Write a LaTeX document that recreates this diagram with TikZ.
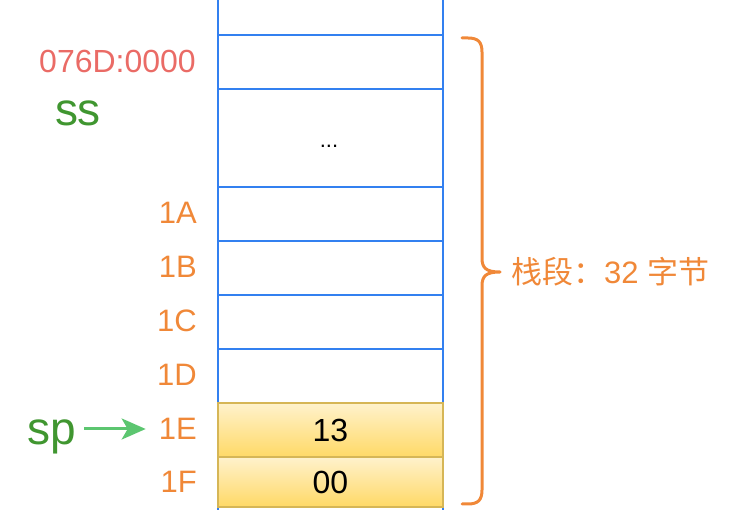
\documentclass[tikz,border=0pt]{standalone}
\usepackage{fontspec}
\setmainfont{Liberation Sans}
\newfontfamily\cjkfont{Noto Sans CJK SC}
\usetikzlibrary{arrows.meta}
\definecolor{cellblue}{RGB}{51,128,240}
\definecolor{addrred}{RGB}{234,107,102}
\definecolor{reggreen}{RGB}{64,150,48}
\definecolor{arrgreen}{RGB}{92,198,112}
\definecolor{labelorange}{RGB}{240,136,56}
\definecolor{ybord}{RGB}{214,182,86}
\definecolor{ytop}{RGB}{255,242,204}
\definecolor{ybot}{RGB}{255,217,102}
\tikzset{
  cell/.style={draw=cellblue, line width=2pt, minimum width=225pt, inner sep=0pt, anchor=north west},
  ycell/.style={draw=ybord, line width=2pt, minimum width=225pt, inner sep=0pt, anchor=north west,
    top color=ytop, bottom color=ybot, font=\fontsize{32}{34}\selectfont},
  addr/.style={text=labelorange, anchor=east, inner sep=0pt, font=\fontsize{31}{33}\selectfont},
  reg/.style={text=reggreen, inner sep=0pt, font=\fontsize{46}{48}\selectfont},
}
\begin{document}
\begin{tikzpicture}[x=1pt,y=-1pt]
\useasboundingbox (0,0) rectangle (740,510);
\clip (0,0) rectangle (740,510);
% cells
\node[cell, minimum height=54pt] (c0) at (217,-20) {};
\node[cell, minimum height=54pt] (c1) at (217,34) {};
\node[cell, minimum height=98pt] (c2) at (217,88) {};
\node[inner sep=0pt, font=\fontsize{22}{24}\selectfont, anchor=base] (dots) at (329,148) {...};
\node[cell, minimum height=54pt] (c3) at (217,186) {};
\node[cell, minimum height=54pt] (c4) at (217,240) {};
\node[cell, minimum height=54pt] (c5) at (217,294) {};
\node[cell, minimum height=54pt] (c6) at (217,348) {};
\node[cell, minimum height=54pt] (c9) at (217,506) {};
\node[ycell, minimum height=54pt] (c7) at (217,402) {13};
\node[ycell, minimum height=50pt] (c8) at (217,456) {00};
% labels
\node[addr, text=addrred, font=\fontsize{32}{34}\selectfont] (a0) at (196,61) {076D:0000};
\node[reg] (ss) at (78,113) {ss};
\node[addr] (a1) at (197,213) {1A};
\node[addr] (a2) at (197,267) {1B};
\node[addr] (a3) at (197,321) {1C};
\node[addr] (a4) at (197,375) {1D};
\node[addr] (a5) at (197,429) {1E};
\node[addr] (a6) at (197,482) {1F};
\node[reg] (sp) at (52,437) {sp};
\draw[draw=arrgreen, line width=3pt, -{Stealth[length=24pt,width=21pt,inset=6pt]}]
  (84,429) coordinate (s0) -- ([xshift=-13pt]a5.west);
% brace
\coordinate (bt) at (462,38);
\coordinate (bb) at (462,504);
\coordinate (tip) at (500,272);
\draw[labelorange, line width=3pt, line cap=round, line join=round]
  (bt) -- (468,38) .. controls (478,38) and (482,42) .. (482,52)
  -- (482,258) .. controls (482,268) and (486,272) .. (tip)
  (tip) .. controls (486,272) and (482,276) .. (482,286)
  -- (482,490) .. controls (482,500) and (478,504) .. (468,504) -- (bb);
\node[anchor=west, inner sep=0pt, text=labelorange, font=\fontsize{31}{33}\selectfont] (seg) at (511,272)
  {{\cjkfont 栈段：}32 {\cjkfont 字节}};
\end{tikzpicture}
\end{document}
